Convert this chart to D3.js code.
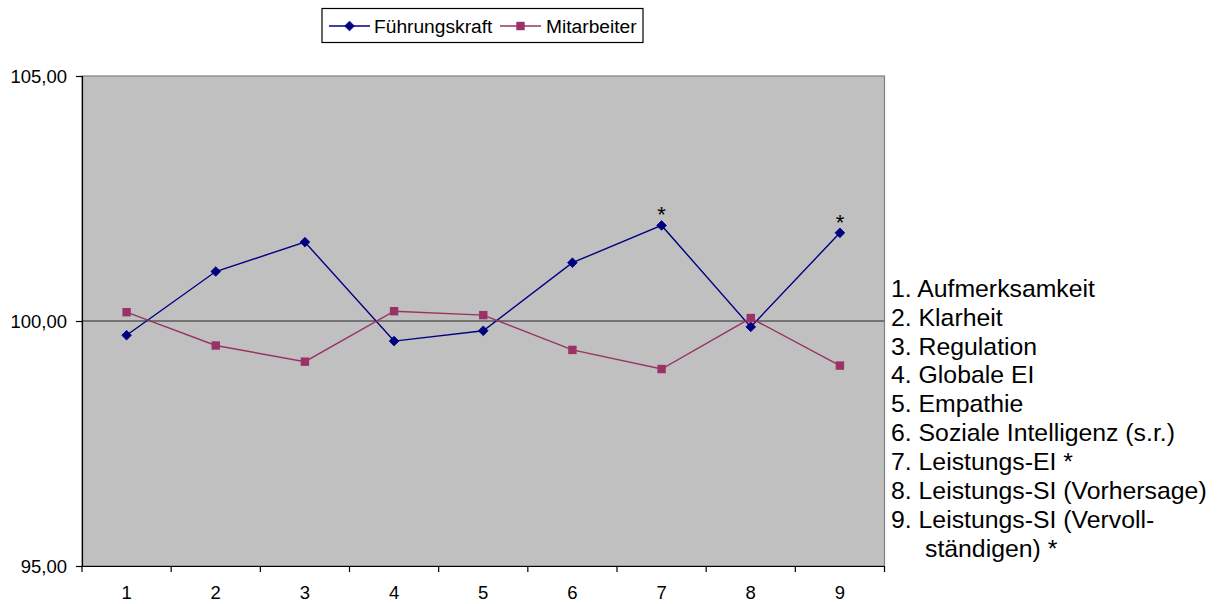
<!DOCTYPE html>
<html>
<head>
<meta charset="utf-8">
<script src="https://cdn.jsdelivr.net/npm/d3@7"></script>
<style>
  html, body { margin: 0; padding: 0; background: #ffffff; }
  svg { display: block; font-family: "Liberation Sans", Arial, sans-serif; }
  svg text { font-family: "Liberation Sans", Arial, sans-serif; }
</style>
</head>
<body>
<svg id="chart" width="1219" height="604"></svg>
<script>
const categories = ["1", "2", "3", "4", "5", "6", "7", "8", "9"];
const fuehrungskraft = [99.71, 101.01, 101.61, 99.59, 99.80, 101.19, 101.95, 99.88, 101.80];
const mitarbeiter = [100.18, 99.50, 99.17, 100.20, 100.12, 99.41, 99.02, 100.06, 99.09];
const seriesNames = ["Führungskraft", "Mitarbeiter"];
const yTicks = [95, 100, 105];
const yTickLabels = ["95,00", "100,00", "105,00"];
const significant = ["7", "9"];
const legendLines = [
  "1. Aufmerksamkeit",
  "2. Klarheit",
  "3. Regulation",
  "4. Globale EI",
  "5. Empathie",
  "6. Soziale Intelligenz (s.r.)",
  "7. Leistungs-EI *",
  "8. Leistungs-SI (Vorhersage)",
  "9. Leistungs-SI (Vervoll-",
  "   ständigen) *"
];

const FONT = "'Liberation Sans', Arial, sans-serif";
const svg = d3.select("#chart");
const plot = { left: 82, right: 884.5, top: 76, bottom: 566 };
const colors = ["#000080", "#993366"];

const x = d3.scaleBand().domain(categories).range([plot.left, plot.right]).padding(0);
const y = d3.scaleLinear().domain([95, 105]).range([plot.bottom, plot.top]);
const cx = c => x(c) + x.bandwidth() / 2;

// plot background
svg.append("rect")
  .attr("x", plot.left).attr("y", plot.top)
  .attr("width", plot.right - plot.left).attr("height", plot.bottom - plot.top)
  .attr("fill", "#c0c0c0").attr("stroke", "#808080").attr("stroke-width", 1.2);

// gridline at 100
svg.append("line")
  .attr("x1", plot.left).attr("x2", plot.right)
  .attr("y1", y(100)).attr("y2", y(100))
  .attr("stroke", "#5a5a5a").attr("stroke-width", 1.5);

// y axis
const yAxis = d3.axisLeft(y).tickValues(yTicks).tickSize(6).tickPadding(9)
  .tickFormat((d, i) => yTickLabels[i]);
const gy = svg.append("g").attr("transform", `translate(${plot.left},0)`).call(yAxis);
gy.select(".domain").attr("stroke", "#000").attr("stroke-width", 1.2);
gy.selectAll(".tick line").attr("stroke", "#000").attr("stroke-width", 1.2);
gy.selectAll(".tick text").attr("font-size", "18.5px").attr("fill", "#000")
  .attr("font-family", FONT).attr("dy", "0.36em");

// x axis
const xAxis = d3.axisBottom(x).tickSize(0).tickPadding(20);
const gx = svg.append("g").attr("transform", `translate(0,${plot.bottom})`).call(xAxis);
gx.select(".domain").attr("stroke", "#000").attr("stroke-width", 1.2);
gx.selectAll(".tick text").attr("font-size", "18.5px").attr("fill", "#000")
  .attr("font-family", FONT).attr("dy", "0.71em");
// x tick marks at category boundaries
const boundaries = categories.map(c => x(c)).concat([x(categories[categories.length - 1]) + x.bandwidth()]);
svg.append("g").selectAll("line").data(boundaries).join("line")
  .attr("x1", d => d).attr("x2", d => d)
  .attr("y1", plot.bottom).attr("y2", plot.bottom + 6)
  .attr("stroke", "#000").attr("stroke-width", 1.2);

// series
const series = [fuehrungskraft, mitarbeiter];
const line = d3.line().x((d, i) => cx(categories[i])).y(d => y(d));
series.forEach((vals, si) => {
  svg.append("path").datum(vals)
    .attr("d", line).attr("fill", "none")
    .attr("stroke", colors[si]).attr("stroke-width", 1.4);
});
// markers
const diamond = d3.symbol().type(d3.symbolDiamond2).size(60);
svg.append("g").selectAll("path").data(fuehrungskraft).join("path")
  .attr("d", diamond)
  .attr("transform", (d, i) => `translate(${cx(categories[i])},${y(d)})`)
  .attr("fill", colors[0]).attr("stroke", colors[0]).attr("stroke-width", 0.8);
svg.append("g").selectAll("rect").data(mitarbeiter).join("rect")
  .attr("x", (d, i) => cx(categories[i]) - 4.2).attr("y", d => y(d) - 4.2)
  .attr("width", 8.4).attr("height", 8.4)
  .attr("fill", colors[1]);

// significance asterisks
svg.append("g").selectAll("text").data(significant).join("text")
  .attr("x", c => cx(c))
  .attr("y", c => y(fuehrungskraft[categories.indexOf(c)]) - 3)
  .attr("text-anchor", "middle")
  .attr("font-family", FONT)
  .attr("font-size", "22px").attr("fill", "#000")
  .text("*");

// legend box
const lg = svg.append("g");
lg.append("rect").attr("x", 322).attr("y", 8.5).attr("width", 321).attr("height", 34)
  .attr("fill", "#fff").attr("stroke", "#000").attr("stroke-width", 1.2);
const legendItems = [
  { x1: 329, x2: 370, tx: 374 },
  { x1: 500, x2: 541, tx: 546 }
];
legendItems.forEach((it, i) => {
  const ly = 26;
  lg.append("line").attr("x1", it.x1).attr("x2", it.x2).attr("y1", ly).attr("y2", ly)
    .attr("stroke", colors[i]).attr("stroke-width", 1.4);
  const mx = (it.x1 + it.x2) / 2;
  if (i === 0) {
    lg.append("path").attr("d", diamond)
      .attr("transform", `translate(${mx},${ly})`)
      .attr("fill", colors[0]).attr("stroke", colors[0]).attr("stroke-width", 0.8);
  } else {
    lg.append("rect").attr("x", mx - 4.2).attr("y", ly - 4.2).attr("width", 8.4).attr("height", 8.4)
      .attr("fill", colors[1]);
  }
  lg.append("text").attr("x", it.tx).attr("y", 32.5)
    .attr("font-family", FONT)
    .attr("font-size", "19.2px").attr("fill", "#000").text(seriesNames[i]);
});

// category explanation text
svg.append("g").selectAll("text").data(legendLines).join("text")
  .attr("x", (d, i) => i === legendLines.length - 1 ? 925 : 891)
  .attr("y", (d, i) => 296.7 + i * 28.9)
  .attr("font-family", FONT)
  .attr("font-size", "24.8px").attr("fill", "#000")
  .text(d => d.trim());
</script>
</body>
</html>
